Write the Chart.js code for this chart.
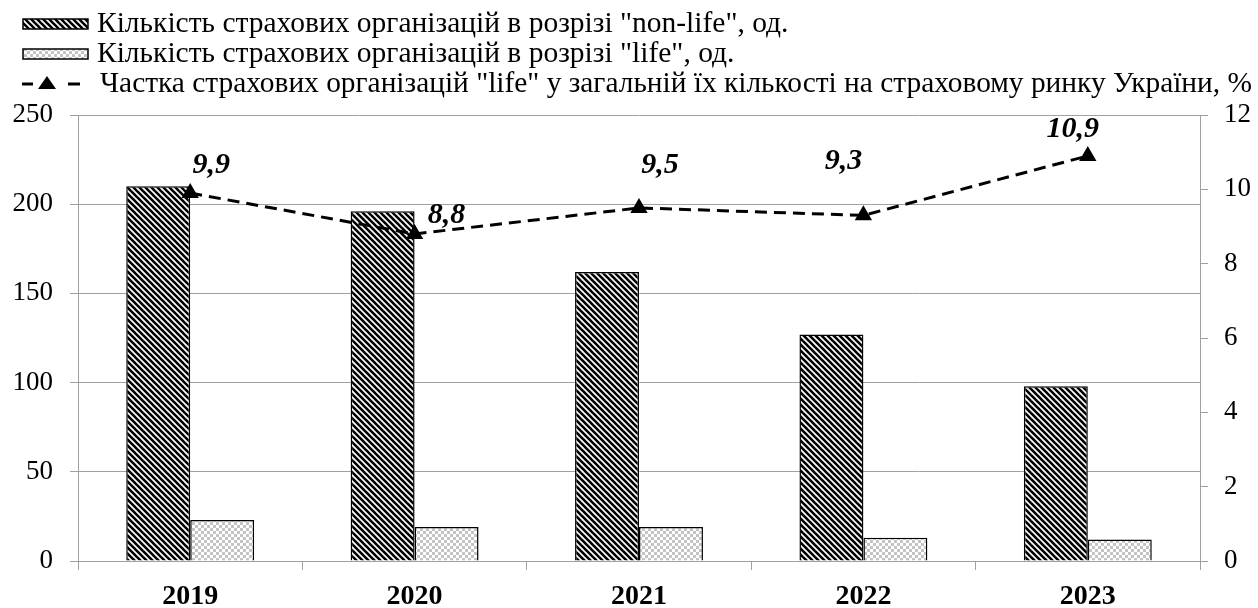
<!DOCTYPE html>
<html>
<head>
<meta charset="utf-8">
<script src="https://cdn.jsdelivr.net/npm/chart.js@4/dist/chart.umd.min.js"></script>
<style>
	body { margin: 0; background: #fff; }
	canvas { display: block; }
</style>
</head>
<body>
<canvas id="chart" width="1258" height="608"></canvas>
<script>
/* Data */
var years = ["2019", "2020", "2021", "2022", "2023"];
var nonLife = [210, 196, 162, 127, 98];
var life = [23, 19, 19, 13, 12];
var lifeShare = [9.9, 8.8, 9.5, 9.3, 10.9];

var nonLifeLabel = 'Кількість страхових організацій в розрізі "non-life", од.';
var lifeLabel = 'Кількість страхових організацій в розрізі "life", од.';
var shareLabel = 'Частка страхових організацій "life" у загальній їх кількості на страховому ринку України, %';

var serif = "'Liberation Serif', 'Times New Roman', serif";
var gridGray = "#a0a0a0";

/* Fill patterns */
function stripes() {
	var s = 6;
	var c = document.createElement("canvas");
	c.width = s;
	c.height = s;
	var g = c.getContext("2d");
	g.fillStyle = "#fff";
	g.fillRect(0, 0, s, s);
	g.strokeStyle = "#000";
	g.lineWidth = 2.6;
	for (var k = -1; k <= 1; k++) {
		g.beginPath();
		g.moveTo(k * s - 1, -1);
		g.lineTo(k * s + s + 1, s + 1);
		g.stroke();
	}
	return g.createPattern(c, "repeat");
}

function checks() {
	var c = document.createElement("canvas");
	c.width = 6;
	c.height = 6;
	var g = c.getContext("2d");
	g.fillStyle = "#fff";
	g.fillRect(0, 0, 6, 6);
	g.fillStyle = "#c4c4c4";
	g.fillRect(0, 0, 3, 3);
	g.fillRect(3, 3, 3, 3);
	return g.createPattern(c, "repeat");
}

var stripeFill = stripes();
var checkFill = checks();

/* Value labels above the line, nudged like in the source */
var labelShift = [[21, -28], [32, -19], [21, -43], [-20, -54], [-15, -27]];

var shareLabels = {
	id: "shareLabels",
	afterDatasetsDraw: function (chart) {
		var ctx = chart.ctx;
		var meta = chart.getDatasetMeta(2);
		ctx.save();
		ctx.font = "italic bold 30px " + serif;
		ctx.fillStyle = "#000";
		ctx.textAlign = "center";
		ctx.textBaseline = "middle";
		meta.data.forEach(function (pt, i) {
			var txt = lifeShare[i].toFixed(1).replace(".", ",");
			ctx.fillText(txt, pt.x + labelShift[i][0], pt.y + labelShift[i][1]);
		});
		ctx.restore();
	},
};

/* Legend in three rows at the top left */
var topLegend = {
	id: "topLegend",
	afterDraw: function (chart) {
		var ctx = chart.ctx;
		ctx.save();
		ctx.font = "29.5px " + serif;
		ctx.textBaseline = "alphabetic";
		ctx.textAlign = "left";

		var rows = [24, 54, 84];
		var fills = [stripeFill, checkFill];
		for (var i = 0; i < 2; i++) {
			ctx.fillStyle = fills[i];
			ctx.fillRect(23, rows[i] - 5, 65, 10);
			ctx.strokeStyle = "#000";
			ctx.lineWidth = 1.5;
			ctx.strokeRect(23, rows[i] - 5, 65, 10);
		}
		ctx.fillStyle = "#000";
		ctx.fillText(nonLifeLabel, 97, rows[0] + 8);
		ctx.fillText(lifeLabel, 97, rows[1] + 8);

		var y = rows[2];
		ctx.strokeStyle = "#000";
		ctx.lineWidth = 3;
		ctx.beginPath();
		ctx.moveTo(22, y);
		ctx.lineTo(33, y);
		ctx.moveTo(68, y);
		ctx.lineTo(80, y);
		ctx.stroke();
		ctx.beginPath();
		ctx.moveTo(47, y - 8);
		ctx.lineTo(56, y + 5);
		ctx.lineTo(38, y + 5);
		ctx.closePath();
		ctx.fill();
		ctx.font = "30px " + serif;
		ctx.fillText(shareLabel, 100, y + 8, 1152);
		ctx.restore();
	},
};

var ctxChart = document.getElementById("chart");

var chart = new Chart(ctxChart, {
	type: "bar",
	data: {
		labels: years,
		datasets: [
			{
				label: nonLifeLabel,
				data: nonLife,
				backgroundColor: stripeFill,
				borderColor: "#000",
				borderWidth: 1.5,
				categoryPercentage: 0.57,
				barPercentage: 1.0,
				yAxisID: "y",
				order: 2,
			},
			{
				label: lifeLabel,
				data: life,
				backgroundColor: checkFill,
				borderColor: "#000",
				borderWidth: 1.5,
				categoryPercentage: 0.57,
				barPercentage: 1.0,
				yAxisID: "y",
				order: 2,
			},
			{
				type: "line",
				label: shareLabel,
				data: lifeShare,
				borderColor: "#000",
				borderWidth: 3,
				borderDash: [12, 7],
				backgroundColor: "#000",
				pointStyle: "triangle",
				pointRadius: 7,
				pointBackgroundColor: "#000",
				pointBorderColor: "#000",
				fill: false,
				tension: 0,
				yAxisID: "y1",
				order: 1,
			},
		],
	},
	options: {
		responsive: false,
		animation: false,
		devicePixelRatio: 1,
		layout: { padding: { top: 115, left: 0, right: 0, bottom: 0 } },
		plugins: {
			legend: { display: false },
			tooltip: { enabled: false },
		},
		scales: {
			x: {
				grid: {
					offset: true,
					drawOnChartArea: false,
					color: gridGray,
					tickLength: 9,
				},
				border: { color: gridGray },
				ticks: {
					color: "#000",
					font: { family: serif, size: 28, weight: "bold" },
					padding: 10,
				},
				afterFit: function (s) {
					s.height = 47;
				},
			},
			y: {
				position: "left",
				min: 0,
				max: 250,
				ticks: {
					stepSize: 50,
					color: "#000",
					font: { family: serif, size: 27 },
					padding: 17,
				},
				grid: { color: gridGray, tickLength: 8 },
				border: { color: gridGray },
				afterFit: function (s) {
					s.width = 78;
				},
			},
			y1: {
				position: "right",
				min: 0,
				max: 12,
				ticks: {
					stepSize: 2,
					color: "#000",
					font: { family: serif, size: 27 },
					padding: 16,
				},
				grid: { drawOnChartArea: false, color: gridGray, tickLength: 8 },
				border: { color: gridGray },
				afterFit: function (s) {
					s.width = 58;
				},
			},
		},
	},
	plugins: [shareLabels, topLegend],
});
</script>
</body>
</html>
